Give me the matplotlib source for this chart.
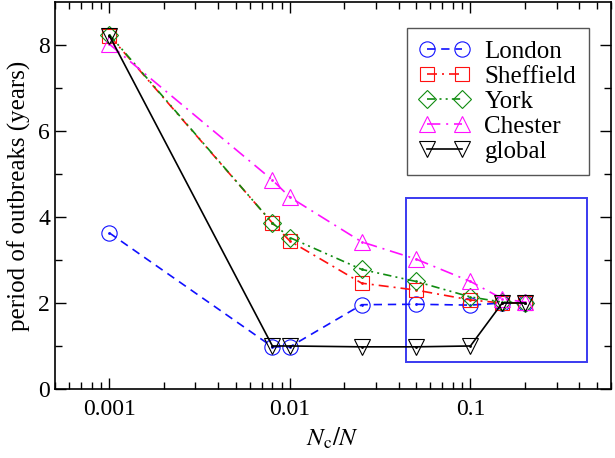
import matplotlib
matplotlib.use("Agg")
import matplotlib.pyplot as plt
from matplotlib.patches import Rectangle

plt.rcParams["font.family"] = ["Liberation Serif", "DejaVu Serif"]
plt.rcParams["mathtext.fontset"] = "stix"

# data
nc_over_n = [0.001, 0.008, 0.01, 0.025, 0.05, 0.1, 0.15, 0.2]
london = [3.63, 0.98, 0.98, 1.96, 1.97, 1.95, 2.0, 2.0]
sheffield = [8.22, 3.86, 3.44, 2.46, 2.30, 2.07, 2.0, 2.0]
york = [8.24, 3.86, 3.52, 2.78, 2.50, 2.14, 2.02, 2.0]
chester = [8.02, 4.86, 4.46, 3.42, 3.02, 2.50, 2.10, 2.02]
global_ = [8.22, 1.0, 1.0, 0.98, 0.98, 1.0, 2.0, 2.0]

names = ["London", "Sheffield", "York", "Chester", "global"]
series = [london, sheffield, york, chester, global_]
colors = ["#1010ff", "#ff1010", "#108c10", "#ff10ff", "#000000"]
markers = ["o", "s", "D", "^", "v"]
msizes = [11, 9.5, 9.5, 11, 11]
dashes = [(5, 3.5), (6, 3, 1.2, 3), (5, 2.5, 1.2, 2.5, 1.2, 2.5),
          (8, 3.5, 1.2, 3.5), None]

# zoom box
box_x = (0.0438, 0.443)
box_y = (0.63, 4.44)

fig = plt.figure(figsize=(6.15, 4.58), dpi=100)
ax = fig.add_axes([0.0894, 0.1507, 0.904, 0.845])

for name, y, c, m, ms, d in zip(names, series, colors, markers, msizes, dashes):
    line, = ax.plot(nc_over_n, y, color=c, lw=1.2, marker=m, ms=ms,
                    mfc="none", mec=c, mew=0.8, label=name)
    if d is not None:
        line.set_dashes(d)
    # the little dot in the middle of each symbol
    ax.plot(nc_over_n, y, ls="none", marker=".", ms=2, color=c)

ax.add_patch(Rectangle((box_x[0], box_y[0]), box_x[1] - box_x[0],
                       box_y[1] - box_y[0], fill=False,
                       edgecolor="#3a3af0", lw=1.4, zorder=1))

ax.set_xscale("log")
ax.set_xlim(0.0005, 0.6)
ax.set_ylim(0, 9)
ax.set_yticks([0, 2, 4, 6, 8])
ax.set_yticks([1, 3, 5, 7], minor=True)
ax.set_xticks([0.001, 0.01, 0.1])
ax.set_xticklabels(["0.001", "0.01", "0.1"])

ax.tick_params(which="both", direction="in", top=True, right=True,
               labelsize=17, width=1.0)
ax.tick_params(which="major", length=8)
ax.tick_params(which="minor", length=5)
ax.tick_params(axis="x", pad=7)
for s in ax.spines.values():
    s.set_linewidth(1.2)

ax.set_xlabel(r"$N_{\rm c}/N$", fontsize=18, labelpad=4)
ax.set_ylabel("period of outbreaks (years)", fontsize=18, labelpad=5)

leg = ax.legend(loc="upper right", bbox_to_anchor=(0.96, 0.933),
                borderaxespad=0, fontsize=18, handlelength=2.0,
                numpoints=2, labelspacing=0.1, fancybox=False,
                edgecolor="#555555", framealpha=1, borderpad=0.5,
                handletextpad=0.6)
leg.get_frame().set_linewidth(1.0)

fig.savefig("out.png", dpi=100)
